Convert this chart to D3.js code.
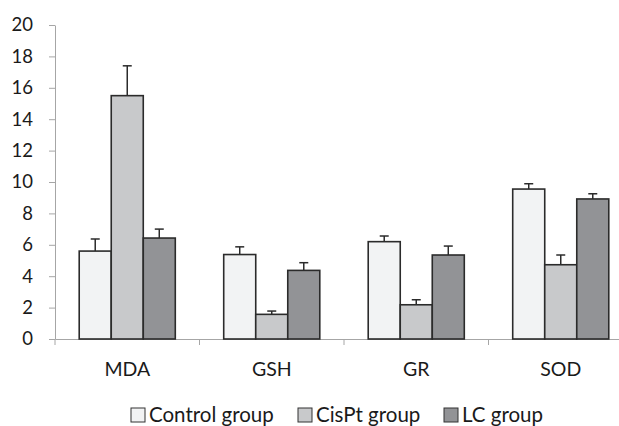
<html>
<head>
<style>
  body { margin: 0; background: #fff; }
  text { font-family: Lato, "Open Sans", sans-serif; fill: #1a1a1a; }
</style>
</head>
<body>
<svg id="svg" width="619" height="426"></svg>
<script src="https://d3js.org/d3.v7.min.js"></script>
<script>

var categories = ["MDA", "GSH", "GR", "SOD"];
var groups = ["Control group", "CisPt group", "LC group"];
var control = [5.6, 5.38, 6.2, 9.55];
var controlErr = [0.77, 0.49, 0.36, 0.34];
var cispt = [15.5, 1.57, 2.18, 4.73];
var cisptErr = [1.9, 0.21, 0.32, 0.62];
var lc = [6.43, 4.37, 5.35, 8.92];
var lcErr = [0.57, 0.49, 0.57, 0.33];
var yTicks = [0, 2, 4, 6, 8, 10, 12, 14, 16, 18, 20];

var fills = ["#f2f3f4", "#c8c9cb", "#929396"];
var series = [control, cispt, lc];
var errs = [controlErr, cisptErr, lcErr];

var rows = [];
categories.forEach((c, i) => {
  groups.forEach((g, j) => {
    rows.push({ cat: c, grp: g, v: series[j][i], e: errs[j][i], k: j });
  });
});

// plot area runs past the right edge of the picture, like the cropped original
var mL = 55, mR = 633, mT = 25, mB = 339;
var svg = d3.select("#svg");

var x = d3.scaleBand().domain(categories).range([mL, mR]);
var xi = d3.scaleBand().domain(groups).range([0, x.bandwidth()]).paddingOuter(0.756).paddingInner(0);
var y = d3.scaleLinear().domain([0, 20]).range([mB, mT]);

// y axis
var ya = svg.append("g").attr("transform", "translate(" + mL + ",0)")
  .call(d3.axisLeft(y).tickValues(yTicks).tickSize(6).tickSizeOuter(0).tickPadding(16));
ya.select(".domain").attr("stroke", "#a6a6a6");
ya.selectAll(".tick line").attr("stroke", "#a6a6a6");
ya.selectAll(".tick text").style("font-size", "18.5px").attr("fill", "#1a1a1a");
// little cross tick below the origin
ya.append("line").attr("x1", 0).attr("x2", 0).attr("y1", mB).attr("y2", mB + 6)
  .attr("stroke", "#a6a6a6");

// x axis
var xa = svg.append("g").attr("transform", "translate(0," + mB + ")")
  .call(d3.axisBottom(x).tickSize(0).tickPadding(23));
xa.select(".domain").attr("stroke", "#a6a6a6");
xa.selectAll(".tick text").style("font-size", "19.5px").attr("fill", "#1a1a1a");
xa.selectAll("line.sep").data(categories.slice(1)).join("line").classed("sep", true)
  .attr("x1", d => x(d)).attr("x2", d => x(d)).attr("y1", 0).attr("y2", 6)
  .attr("stroke", "#a6a6a6");

// error bars
var eb = svg.append("g").selectAll("g").data(rows).join("g")
  .attr("transform", d => "translate(" + (x(d.cat) + xi(d.grp) + xi.bandwidth() / 2) + ",0)");
eb.append("line").attr("x1", 0).attr("x2", 0)
  .attr("y1", d => y(d.v)).attr("y2", d => y(d.v + d.e))
  .attr("stroke", "#2b2b2b").attr("stroke-width", 1.5);
eb.append("line").attr("x1", -4.5).attr("x2", 4.5)
  .attr("y1", d => y(d.v + d.e)).attr("y2", d => y(d.v + d.e))
  .attr("stroke", "#2b2b2b").attr("stroke-width", 1.5);

// bars
svg.append("g").selectAll("rect").data(rows).join("rect")
  .attr("x", d => x(d.cat) + xi(d.grp))
  .attr("y", d => y(d.v))
  .attr("width", xi.bandwidth())
  .attr("height", d => y(0) - y(d.v))
  .attr("fill", d => fills[d.k])
  .attr("stroke", "#2b2b2b")
  .attr("stroke-width", 1.6);

// legend
var legX = [131, 298, 444];
var lg = svg.append("g").selectAll("g").data(groups).join("g")
  .attr("transform", (d, i) => "translate(" + legX[i] + ",408)");
lg.append("rect").attr("width", 14).attr("height", 14)
  .attr("fill", (d, i) => fills[i]).attr("stroke", "#333").attr("stroke-width", 1);
lg.append("text").attr("x", 18).attr("y", 7).attr("dy", "0.35em")
  .style("font-size", "20.5px").text(d => d);

</script>
</body>
</html>
